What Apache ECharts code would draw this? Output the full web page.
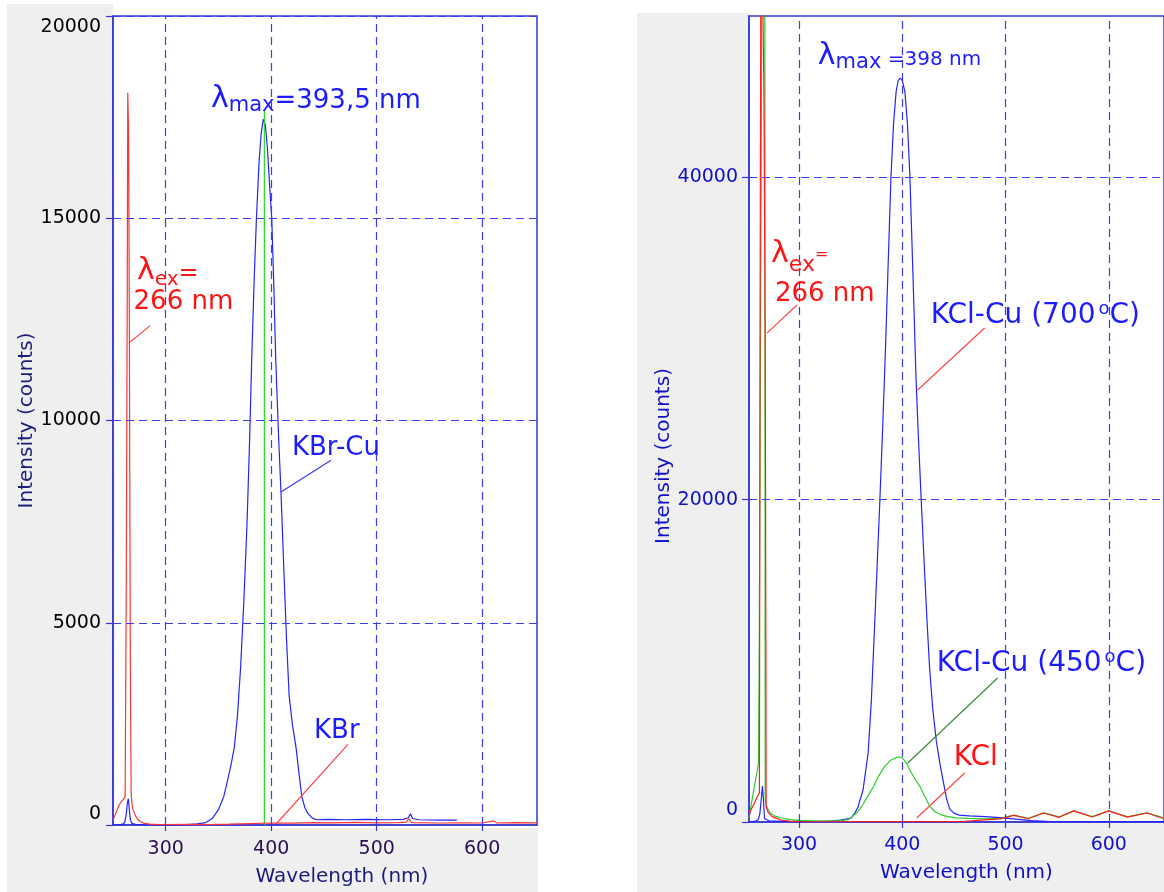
<!DOCTYPE html>
<html>
<head>
<meta charset="utf-8">
<title>KBr-Cu / KCl-Cu emission spectra</title>
<script src="https://cdn.jsdelivr.net/npm/echarts@6/dist/echarts.min.js"></script>
<style>
  html, body { margin: 0; padding: 0; background: #ffffff; }
  #chart { width: 1164px; height: 892px; }
</style>
</head>
<body>
<div id="chart"></div>
<script>
// ---- tick values ----
const wavelengthTicks = [300, 400, 500, 600];
const kbrIntensityTicks = [0, 5000, 10000, 15000, 20000];
const kclIntensityTicks = [0, 20000, 40000];

// ---- left panel: KBr crystals, [wavelength (nm), intensity (counts)] ----
const kbrCuSpectrum = [
  [250, 0], [256, 0], [259, 20], [261, 60], [262.5, 250], [263.5, 520], [264.5, 650],
  [265.5, 380], [266.5, 120], [268, 40], [272, 10], [280, 0], [300, 0], [320, 10],
  [330, 30], [338, 60], [344, 160], [350, 380], [355, 700], [358, 1030], [362, 1500],
  [365, 1920], [368, 2700], [371, 3900], [374, 5500], [377, 7400], [379.5, 9500],
  [381.5, 11500], [384, 13600], [386, 15000], [388.5, 16400], [390.5, 17100],
  [392.5, 17450], [394.5, 17300], [396.5, 16700], [398.5, 15800], [400.5, 15000],
  [402.5, 13300], [404.3, 11500], [407, 9600], [409.3, 8200], [412, 6300],
  [414.5, 4600], [417, 3200], [420, 2500], [423.6, 1900], [426, 1350], [429, 700],
  [432, 420], [435, 280], [439, 170], [443, 130], [455, 140], [470, 130], [490, 140],
  [510, 130], [525, 140], [530, 180], [532, 280], [534, 160], [540, 130], [560, 120],
  [576, 120]
];
const kbrSpectrum = [
  [250, 120], [252, 250], [254, 380], [256, 500], [258, 580], [260, 640], [261.5, 700],
  [262.5, 5500], [263.5, 13000], [264, 18100], [264.8, 17100], [265.6, 11600],
  [266.4, 4100], [267.2, 800], [268, 500], [269, 380], [271, 250], [273, 150], [276, 80],
  [280, 40], [285, 20], [295, 10], [320, 15], [340, 10], [360, 20], [380, 35], [400, 50],
  [420, 45], [440, 60], [460, 55], [480, 65], [500, 55], [520, 60], [528, 70],
  [530.5, 150], [533, 60], [560, 50], [580, 55], [600, 50], [611, 100], [614, 50],
  [630, 60], [652, 55]
];
const kbrCuPeakMarker = [[393.5, 0], [393.5, 17700]];

// ---- right panel: KCl crystals ----
const kclCu700Spectrum = [
  [251.5, 30], [255, 40], [258, 60], [260.5, 150], [262, 500], [263.5, 1500], [264.5, 2230],
  [265.5, 1400], [266.5, 200], [268, 80], [272, 50], [290, 40], [310, 30], [330, 60],
  [340, 120], [345, 180], [350.5, 250], [354, 550], [357.2, 950], [362, 2000],
  [366.9, 4280], [370, 7500], [373.4, 12530], [376, 16500], [378.3, 20000], [381, 24500],
  [383.5, 29000], [386, 34000], [389, 40000], [391.5, 43300], [394, 45300], [396, 46000],
  [398, 46150], [400, 46000], [402.5, 45300], [405, 43300], [407.4, 40000], [410.3, 34000],
  [413.3, 27500], [415.5, 24000], [418.3, 20000], [421, 16300], [423.9, 12530],
  [426.5, 9500], [429.5, 7000], [433, 5000], [436.5, 3600], [440, 2400], [443, 1400],
  [446, 800], [450, 550], [455, 430], [465, 380], [480, 330], [495, 270], [510, 180],
  [525, 80], [540, 40], [600, 30], [653.5, 30]
];
const kclCu450Spectrum = [
  [251.5, 250], [253, 800], [255, 1570], [257, 2300], [259, 3000], [260.7, 3660],
  [261.5, 12000], [262.5, 28000], [263.5, 45000], [264.3, 60000], [266.8, 60000],
  [267.2, 1360], [269, 900], [272, 560], [276, 380], [283, 250], [292, 150], [300, 100],
  [320, 60], [340, 90], [347.8, 150], [352, 350], [357, 650], [362, 1100], [367, 1650],
  [372, 2190], [377, 2850], [383, 3450], [389, 3850], [396.2, 4050], [400, 3980],
  [404, 3660], [408, 3150], [412, 2700], [417.2, 2190], [422, 1550], [426.9, 950],
  [432, 620], [438, 430], [444.6, 330], [452, 260], [465, 220], [480, 200], [495, 230],
  [508, 430], [522, 230], [537, 570], [552, 320], [566, 700], [584, 330], [600, 700],
  [618, 320], [637, 570], [653.5, 250]
];
const kclSpectrum = [
  [251.5, 330], [253, 700], [256.8, 1180], [259, 1500], [261.6, 1800], [262.2, 30000],
  [263.2, 60000], [264.8, 60000], [266, 45000], [267.3, 28300], [267.8, 12000],
  [268.1, 950], [270, 600], [274, 330], [282.4, 120], [290, 50], [300, 20], [330, 15],
  [360, 20], [400, 20], [440, 25], [460, 40], [470, 80], [480, 130], [495, 190],
  [508, 410], [522, 200], [537, 560], [552, 290], [566, 690], [584, 310], [600, 690],
  [618, 300], [637, 560], [653.5, 200]
];

// ---- styling ----
const FONT = 'DejaVu Sans';
const AXIS_BLUE = '#3636d4';
const GRID_BLUE = '#3c3cf0';
const PANEL_GREY = '#efefef';
const BLUE_TEXT = '#1c1cff';
const RED_TEXT = '#ff1414';

// ---- callouts, anchored in data units (left edge / vertical middle of the text) ----
// token: [fontSize, padTop, padBottom, padLeft]
const callouts = [
  { grid: 0, at: [342.9, 17940], color: BLUE_TEXT, text: '{l|λ}{s|max}{t|=393,5 nm}',
    tokens: { l: [30, 0, 0], s: [21, 12, 0], t: [26, 3, 0] } },
  { grid: 0, at: [272.8, 13680], color: RED_TEXT, text: '{l|λ}{s|ex}{t|=}',
    tokens: { l: [30, 0, 0], s: [20, 17, 0], t: [24, 4, 0] } },
  { grid: 0, at: [269.5, 12931], color: RED_TEXT, text: '{t|266 nm}', tokens: { t: [26, 0, 0] } },
  { grid: 0, at: [419.7, 9310], color: BLUE_TEXT, text: '{t|KBr-Cu}', tokens: { t: [26, 0, 0] } },
  { grid: 0, at: [440.6, 2315], color: BLUE_TEXT, text: '{t|KBr}', tokens: { t: [26, 0, 0] } },
  { grid: 1, at: [318.2, 47480], color: BLUE_TEXT, text: '{l|λ}{s|max}{t| =398 nm}',
    tokens: { l: [30, 0, 0], s: [21, 12, 0], t: [20, 7, 0] } },
  { grid: 1, at: [272.8, 35200], color: RED_TEXT, text: '{l|λ}{s|ex}{t|=}',
    tokens: { l: [30, 0, 0], s: [22, 22, 0], t: [16, 0, 0] } },
  { grid: 1, at: [276.6, 32750], color: RED_TEXT, text: '{t|266 nm}', tokens: { t: [26, 0, 0] } },
  { grid: 1, at: [427.5, 31430], color: BLUE_TEXT, text: '{t|KCl-Cu (700}{o|o}{t|C)}',
    tokens: { t: [28, 0, 0], o: [18, 0, 12, 3] } },
  { grid: 1, at: [433.4, 9845], color: BLUE_TEXT, text: '{t|KCl-Cu (450}{o|o}{t|C)}',
    tokens: { t: [28, 0, 0], o: [18, 0, 12, 3] } },
  { grid: 1, at: [449.8, 4010], color: RED_TEXT, text: '{t|KCl}', tokens: { t: [28, 0, 0] } }
];
const leaders = [
  { grid: 0, from: [285.1, 12340], to: [265.2, 11920], color: '#ff4646' },
  { grid: 0, from: [456.7, 9015], to: [409.3, 8230], color: '#3a3aff' },
  { grid: 0, from: [472.8, 1995], to: [405.5, 50], color: '#ff4646' },
  { grid: 1, from: [297.9, 32070], to: [268.9, 30330], color: '#ff4646' },
  { grid: 1, from: [479.7, 30645], to: [414.9, 26800], color: '#ff4646' },
  { grid: 1, from: [492.3, 8930], to: [405.3, 3660], color: '#3c8c3c' },
  { grid: 1, from: [460.4, 3040], to: [414.0, 250], color: '#ff4646' }
];

// ---- option builders ----
function wavelengthAxis(gridIndex, min, max, labelColor, nameColor, margin, nameGap, nameShift) {
  return {
    gridIndex, type: 'value', min, max,
    axisLine: { show: true, onZero: false, lineStyle: { color: AXIS_BLUE, width: 1.5 } },
    axisTick: { show: true, customValues: wavelengthTicks, length: 6, lineStyle: { color: AXIS_BLUE, width: 1.2 } },
    axisLabel: { customValues: wavelengthTicks, margin, color: labelColor, fontSize: 19, fontFamily: FONT },
    splitLine: { show: false },
    name: 'Wavelength (nm)', nameLocation: 'middle', nameGap,
    nameTextStyle: { color: nameColor, fontSize: 20, fontFamily: FONT, padding: [0, 0, 0, nameShift] }
  };
}
function intensityAxis(gridIndex, max, ticks, labelColor, nameColor, margin, nameGap, nameShift, zeroLift, topDrop) {
  const base = { fontSize: 19, fontFamily: FONT, color: labelColor };
  return {
    gridIndex, type: 'value', min: 0, max,
    axisLine: { show: true, onZero: false, lineStyle: { color: AXIS_BLUE, width: 1.5 } },
    axisTick: { show: true, customValues: ticks, length: 7, lineStyle: { color: AXIS_BLUE, width: 1.2 } },
    axisLabel: {
      customValues: ticks, margin, ...base,
      formatter: v => v === 0 ? '{lo|0}' : (v === max ? '{hi|' + v + '}' : String(v)),
      rich: {
        lo: { ...base, padding: [0, 0, zeroLift, 0] },
        hi: { ...base, padding: [topDrop, 0, 0, 0] }
      }
    },
    splitLine: { show: false },
    name: 'Intensity (counts)', nameLocation: 'middle', nameGap,
    nameTextStyle: { color: nameColor, fontSize: 20, fontFamily: FONT, padding: [0, nameShift, 0, 0] }
  };
}
// dashed grid drawn at the tick values of each panel
function gridLines(axisIndex, yTicks) {
  return {
    name: 'grid', type: 'line', xAxisIndex: axisIndex, yAxisIndex: axisIndex, data: [],
    silent: true, z: 1,
    markLine: {
      silent: true, symbol: ['none', 'none'], label: { show: false }, animation: false,
      emphasis: { disabled: true },
      lineStyle: { color: GRID_BLUE, width: 1.2, type: [8, 5] },
      data: wavelengthTicks.map(v => ({ xAxis: v }))
        .concat(yTicks.filter(v => v > 0).map(v => ({ yAxis: v })))
    }
  };
}
function spectrum(name, axisIndex, data, color) {
  return {
    name, type: 'line', xAxisIndex: axisIndex, yAxisIndex: axisIndex, data, z: 3,
    showSymbol: false, symbol: 'none', clip: true, silent: true,
    lineStyle: { color, width: 1.2 }, itemStyle: { color }
  };
}

const chart = echarts.init(document.getElementById('chart'), null, { renderer: 'canvas' });
chart.setOption({
  animation: false,
  backgroundColor: '#ffffff',
  grid: [
    { left: 113, top: 16, width: 424, height: 812, show: true, backgroundColor: '#ffffff',
      borderColor: AXIS_BLUE, borderWidth: 1.5, containLabel: false },
    { left: 749, top: 16, width: 416, height: 806, show: true, backgroundColor: '#ffffff',
      borderColor: AXIS_BLUE, borderWidth: 1.5, containLabel: false }
  ],
  xAxis: [
    wavelengthAxis(0, 250, 652, '#2b0f52', '#1c1c78', 15, 42, 34),
    wavelengthAxis(1, 251.5, 653.5, '#1010c8', '#1010c8', 14, 41, 20)
  ],
  yAxis: [
    intensityAxis(0, 20000, kbrIntensityTicks, '#000000', '#1c1c78', 12, 67, 0, 22, 22),
    intensityAxis(1, 50000, kclIntensityTicks, '#1010c8', '#1010c8', 11, 75, 74, 24, 0)
  ],
  series: [
    gridLines(0, kbrIntensityTicks),
    gridLines(1, kclIntensityTicks),
    spectrum('KBr-Cu', 0, kbrCuSpectrum, '#2424ff'),
    spectrum('λmax 393,5 nm', 0, kbrCuPeakMarker, '#22dd22'),
    spectrum('KBr', 0, kbrSpectrum, '#ff3434'),
    spectrum('KCl-Cu (700 °C)', 1, kclCu700Spectrum, '#2424ff'),
    spectrum('KCl-Cu (450 °C)', 1, kclCu450Spectrum, '#2ccc2c'),
    spectrum('KCl', 1, kclSpectrum, '#ff1e1e')
  ]
});

// ---- panel backgrounds, callout texts and leader lines ----
const px = (grid, p) => chart.convertToPixel({ gridIndex: grid }, p);
const graphics = [
  { type: 'rect', z: -10, silent: true, shape: { x: 7, y: 4, width: 106, height: 888 }, style: { fill: PANEL_GREY } },
  { type: 'rect', z: -10, silent: true, shape: { x: 7, y: 828, width: 531, height: 64 }, style: { fill: PANEL_GREY } },
  { type: 'rect', z: -10, silent: true, shape: { x: 637, y: 13, width: 112, height: 879 }, style: { fill: PANEL_GREY } },
  { type: 'rect', z: -10, silent: true, shape: { x: 637, y: 822, width: 527, height: 70 }, style: { fill: PANEL_GREY } }
];
leaders.forEach(l => {
  const a = px(l.grid, l.from), b = px(l.grid, l.to);
  graphics.push({ type: 'line', z: 50, silent: true,
    shape: { x1: a[0], y1: a[1], x2: b[0], y2: b[1] },
    style: { stroke: l.color, lineWidth: 1.2 } });
});
callouts.forEach(c => {
  const p = px(c.grid, c.at);
  const rich = {};
  Object.keys(c.tokens).forEach(k => {
    const [size, padTop, padBottom, padLeft] = c.tokens[k];
    rich[k] = { fontSize: size, fontFamily: FONT, fill: c.color,
      padding: [padTop, 0, padBottom, padLeft || 0] };
  });
  graphics.push({ type: 'text', z: 60, silent: true,
    style: { text: c.text, x: p[0], y: p[1], fill: c.color, fontFamily: FONT, fontSize: 26,
      align: 'left', verticalAlign: 'middle', rich } });
});
chart.setOption({ graphic: graphics });
</script>
</body>
</html>
